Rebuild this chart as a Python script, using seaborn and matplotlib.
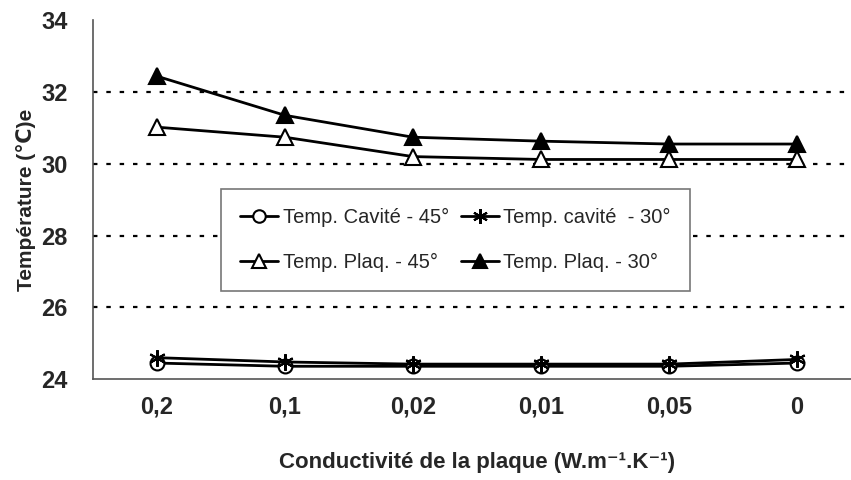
import numpy as np
import pandas as pd
import seaborn as sns
from matplotlib import pyplot as plt
from matplotlib.ticker import FixedLocator, NullFormatter

# valeurs
conductivite = ['0,2', '0,1', '0,02', '0,01', '0,05', '0']
cavite_45 = [24.45, 24.36, 24.36, 24.36, 24.36, 24.45]
cavite_30 = [24.60, 24.48, 24.42, 24.42, 24.42, 24.55]
plaq_45 = [31.02, 30.74, 30.20, 30.12, 30.12, 30.12]
plaq_30 = [32.44, 31.35, 30.74, 30.63, 30.55, 30.55]

series = {
    'Temp. Cavité - 45°': cavite_45,
    'Temp. cavité  - 30°': cavite_30,
    'Temp. Plaq. - 45°': plaq_45,
    'Temp. Plaq. - 30°': plaq_30,
}
df = pd.DataFrame([
    {'k': c, 'serie': nom, 'T': v}
    for nom, vals in series.items() for c, v in zip(conductivite, vals)
])

sns.set_style('white')
plt.rcParams['font.family'] = ['Liberation Sans', 'DejaVu Sans']

fig = plt.figure(figsize=(8.51, 4.8), dpi=100)
ax = fig.add_axes([0.109, 0.210, 0.903, 0.748])

styles = {
    'Temp. Cavité - 45°': dict(marker='o', markerfacecolor='white', markersize=10),
    'Temp. cavité  - 30°': dict(marker=(6, 2, 0), markerfacecolor='black', markersize=12),
    'Temp. Plaq. - 45°': dict(marker='^', markerfacecolor='white', markersize=11),
    'Temp. Plaq. - 30°': dict(marker='^', markerfacecolor='black', markersize=11),
}
handles = {}
for nom in series:
    sub = df[df['serie'] == nom]
    sns.lineplot(data=sub, x='k', y='T', ax=ax, color='black', linewidth=2,
                 markeredgecolor='black', markeredgewidth=1.5,
                 sort=False, **styles[nom])
    handles[nom] = ax.lines[-1]

ax.set_xlim(-0.5, 5.5)
ax.set_ylim(24, 34)
ax.set_yticks([24, 26, 28, 30, 32, 34])
for g in [26, 28, 30, 32]:
    ax.axhline(g, color='black', linestyle=(0, (2, 4)), linewidth=1.6, zorder=0)
ax.grid(False)

ax.set_xticks(range(len(conductivite)))
ax.set_xticklabels(conductivite)
ax.xaxis.set_minor_locator(FixedLocator(np.arange(-0.5, 6, 1)))
ax.xaxis.set_minor_formatter(NullFormatter())
ax.tick_params(axis='x', which='major', length=0, pad=12, labelsize=17)
ax.tick_params(axis='x', which='minor', length=7, width=1, color='#555555', direction='out')
ax.tick_params(axis='y', length=6, width=1, color='#555555', direction='out',
               labelsize=17, pad=12)
for lab in ax.get_xticklabels() + ax.get_yticklabels():
    lab.set_fontweight('bold')

for s in ['top', 'right']:
    ax.spines[s].set_visible(False)
for s in ['left', 'bottom']:
    ax.spines[s].set_color('#555555')
    ax.spines[s].set_linewidth(1.2)

ax.set_xlabel('Conductivité de la plaque (W.m⁻¹.K⁻¹)',
              fontsize=16, fontweight='bold', labelpad=24)
ax.set_ylabel('Température (℃)e', fontsize=15, fontweight='bold', labelpad=4)

ordre = ['Temp. Cavité - 45°', 'Temp. Plaq. - 45°', 'Temp. cavité  - 30°', 'Temp. Plaq. - 30°']
leg = ax.legend([handles[n] for n in ordre], ordre, ncol=2, loc='upper left',
                bbox_to_anchor=(0.167, 0.529), borderaxespad=0, frameon=True,
                fancybox=False, edgecolor='#777777', fontsize=14.5, handlelength=1.9,
                handletextpad=0.2, columnspacing=0.6, labelspacing=1.25,
                borderpad=0.95, framealpha=1, markerscale=0.9)
leg.get_frame().set_linewidth(1.2)

fig.savefig('out.png', dpi=100)
